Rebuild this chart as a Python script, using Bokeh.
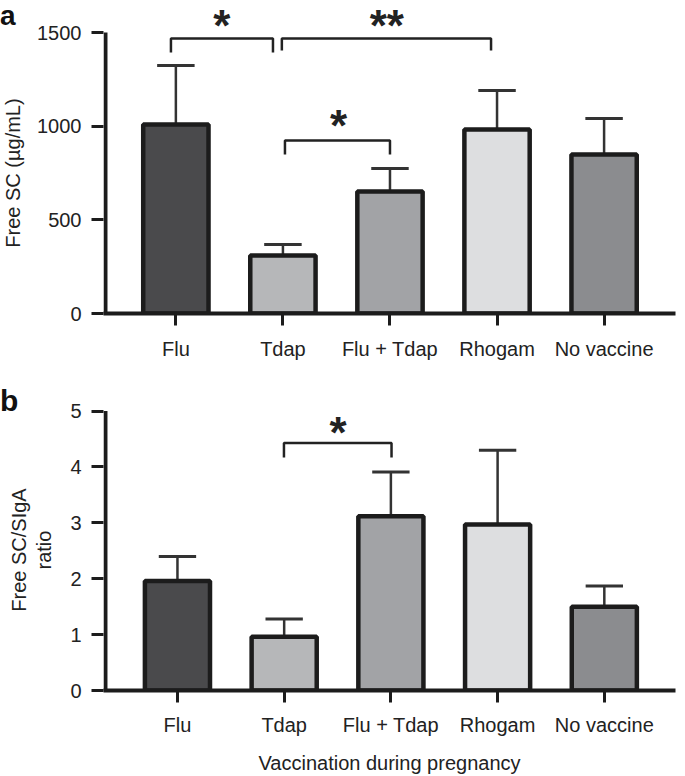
from bokeh.plotting import figure
from bokeh.layouts import column
from bokeh.models import FixedTicker, Div
from bokeh.core.properties import value
from bokeh.embed import file_html
from bokeh.resources import INLINE

categories = ["Flu", "Tdap", "Flu + Tdap", "Rhogam", "No vaccine"]
bar_colors = ["#4a4a4c", "#b6b7b9", "#a2a3a6", "#dddee0", "#8b8c8f"]

free_sc_mean = [1009, 310, 651, 982, 849]
free_sc_sem = [315, 58, 123, 208, 192]

ratio_mean = [1.96, 0.96, 3.12, 2.97, 1.50]
ratio_sem = [0.44, 0.32, 0.79, 1.33, 0.37]

ylabel_a = "Free SC (µg/mL)"
ylabel_b = ["Free SC/SIgA", "ratio"]
xlabel_b = "Vaccination during pregnancy"

FONT = "Liberation Sans"
DARK = "#1c1c1c"
TXT = "#222222"


def style_axes(p, yticks, tick_standoff):
    p.xgrid.visible = False
    p.ygrid.visible = False
    p.outline_line_color = None
    p.border_fill_color = None
    p.background_fill_color = None
    p.xaxis.ticker = FixedTicker(ticks=list(range(len(categories))))
    p.xaxis.major_label_overrides = {i: c for i, c in enumerate(categories)}
    p.xaxis.axis_line_width = 4
    p.xaxis.axis_line_color = DARK
    p.xaxis.major_tick_line_width = 3
    p.xaxis.major_tick_line_color = DARK
    p.xaxis.major_tick_out = 12
    p.xaxis.major_tick_in = 0
    p.xaxis.minor_tick_line_color = None
    p.xaxis.major_label_text_font = FONT
    p.xaxis.major_label_text_font_size = "20px"
    p.xaxis.major_label_text_color = TXT
    p.xaxis.major_label_standoff = tick_standoff

    p.yaxis.ticker = FixedTicker(ticks=yticks)
    p.yaxis.axis_line_color = None
    p.yaxis.major_tick_line_width = 3
    p.yaxis.major_tick_line_color = DARK
    p.yaxis.major_tick_out = 12
    p.yaxis.major_tick_in = 0
    p.yaxis.minor_tick_line_color = None
    p.yaxis.major_label_text_font = FONT
    p.yaxis.major_label_text_font_size = "20px"
    p.yaxis.major_label_text_color = TXT
    p.yaxis.major_label_standoff = 10


def draw_bars(p, means, sems, xstart, px_per_unit, ytop):
    xs = list(range(len(categories)))
    tops = [m + s for m, s in zip(means, sems)]
    p.segment(x0=xs, y0=means, x1=xs, y1=tops, line_width=2.5, line_color="#333333")
    p.segment(x0=[x - 0.175 for x in xs], y0=tops, x1=[x + 0.175 for x in xs], y1=tops,
              line_width=3, line_color="#333333")
    p.vbar(x=xs, top=means, bottom=0, width=0.61, fill_color=bar_colors,
           line_color=DARK, line_width=4.5)
    # y axis line only up to the last tick
    xa = xstart + 2.0 / px_per_unit
    p.segment(x0=[xa], y0=[0], x1=[xa], y1=[ytop], line_width=4, line_color=DARK)


def draw_sig(p, brackets, stars, font_size):
    for (l, r, h, dl, dr, lab), (sx, sy) in zip(brackets, stars):
        p.line(x=[l, l, r, r], y=[dl, h, h, dr], line_width=2.5, line_color="#222222")
        p.text(x=[sx], y=[sy], text=[lab], text_font=value(FONT), text_font_size=font_size,
               text_font_style="bold", text_align="center", text_baseline="alphabetic",
               text_color="#222222")


def overlay_div(html, w, h, styles):
    base = {"font-family": FONT, "color": TXT, "white-space": "nowrap"}
    base.update(styles)
    return Div(text=html, width=w, height=h, margin=(0, 0, -h, 0), styles=base)


def rotated_title(html, w, h, cx, cy, line_h):
    return overlay_div(html, w, h, {
        "font-size": "20px", "line-height": f"{line_h}px", "text-align": "center",
        "transform-origin": "center center",
        "transform": f"translate({cx - w / 2}px, {cy - h / 2}px) rotate(-90deg)",
    })


# ---------- panel a ----------
xa0, xa1 = -0.676, 4.667
pa = figure(width=685, height=380, x_range=(xa0, xa1), y_range=(0, 1671),
            output_backend="svg", toolbar_location=None,
            min_border_left=103, min_border_right=5, min_border_top=0, min_border_bottom=67)
style_axes(pa, [0, 500, 1000, 1500], 12)
draw_bars(pa, free_sc_mean, free_sc_sem, xa0, 108.0, 1500)
brk_a = [(-0.046, 0.907, 1468, 1393, 1393, "*"), (0.99, 2.944, 1468, 1404, 1404, "**"),
         (1.019, 2.0, 924, 849, 849, "*")]
star_a = [(0.43, 1540), (1.97, 1540), (1.52, 1006)]
draw_sig(pa, brk_a, star_a, "44px")

label_a = overlay_div("<b>a</b>", 30, 32, {"font-size": "28px", "line-height": "32px",
                                            "color": "#111111"})
title_a = rotated_title(ylabel_a, 220, 24, 12.5, 173, 24)

# ---------- panel b ----------
xb0, xb1 = -0.693, 4.667
pb = figure(width=685, height=396, x_range=(xb0, xb1), y_range=(0, 5.548),
            output_backend="svg", toolbar_location=None,
            min_border_left=95, min_border_right=10, min_border_top=0, min_border_bottom=83)
style_axes(pb, [0, 1, 2, 3, 4, 5], 11)
pb.xaxis.axis_label = xlabel_b
pb.xaxis.axis_label_text_font = FONT
pb.xaxis.axis_label_text_font_size = "20px"
pb.xaxis.axis_label_text_font_style = "normal"
pb.xaxis.axis_label_text_color = TXT
pb.xaxis.axis_label_standoff = 13
draw_bars(pb, ratio_mean, ratio_sem, xb0, 108.2, 5)
brk_b = [(0.998, 2.006, 4.43, 4.17, 4.17, "*")]
draw_sig(pb, brk_b, [(1.506, 4.62)], "44px")

label_b = overlay_div("<b>b</b>", 30, 30, {"font-size": "30px", "line-height": "30px",
                                            "color": "#111111", "padding-top": "6px"})
title_b = rotated_title("<br>".join(ylabel_b), 220, 50, 31.5, 550 - 380, 25)

layout = column(label_a, title_a, pa, label_b, title_b, pb, spacing=0)
open("out.html", "w").write(file_html(layout, INLINE))
